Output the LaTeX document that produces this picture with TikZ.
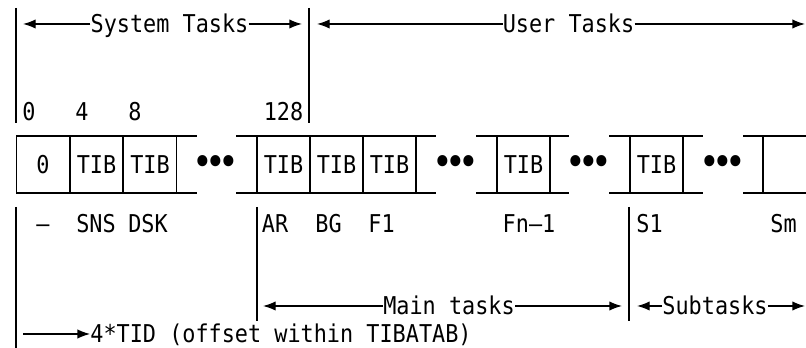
\documentclass[tikz,border=0pt]{standalone}
\usepackage{fontspec}
\newfontfamily\tibfont[FakeStretch=0.89]{DejaVu Sans Mono}
\usepackage{tikz}
\usetikzlibrary{arrows.meta, positioning}
\tikzset{>={Latex[length=9.5pt,width=7pt]}}
\tikzset{
  lbl/.style={font=\tibfont\fontsize{18.4pt}{22pt}\selectfont, inner sep=0pt, text height=13.4pt, text depth=0pt},
  cell/.style={lbl, draw, line width=1.2pt, minimum width=39.9pt, minimum height=42.75pt},
  gap/.style={font=\tibfont\fontsize{29pt}{30pt}\selectfont, inner sep=0pt},
  rule/.style={line width=1.3pt},
  span/.style={line width=1pt}
}

\begin{document}
\begin{tikzpicture}[x=0.75pt, y=-0.75pt]
\useasboundingbox (0,0) rectangle (806,348);

\draw[rule] (16,8) -- (16,123);
\draw[rule] (309,8) -- (309,123);
\node[lbl] (sys) at (169.5,24) {System Tasks};
\node[lbl] (usr) at (568.5,24) {User Tasks};
\coordinate (sysL) at (23,24);
\coordinate (sysR) at (302,24);
\coordinate (usrL) at (317,24);
\coordinate (usrR) at (805,24);
\path[span, ->]
(sys) edge (sysL) edge (sysR)
(usr) edge (usrL) edge (usrR);

\node[lbl] (off0) at (29,112) {0};
\node[lbl] (off4) at (82,112) {4};
\node[lbl] (off8) at (135,112) {8};
\node[lbl] (off128) at (283.5,112) {128};

\foreach \a/\b in {16/197, 236/436, 476/569, 609/703, 743/806}
  \draw[rule] (\a,136) -- (\b,136) (\a,193) -- (\b,193);
\node[cell] (c0) at (43,164.5) {0};
\node[cell] (c1) at (96.5,164.5) {TIB};
\node[cell] (c2) at (150,164.5) {TIB};
\node[cell] (c3) at (283.5,164.5) {TIB};
\node[cell] (c4) at (336.5,164.5) {TIB};
\node[cell] (c5) at (389.5,164.5) {TIB};
\node[cell] (c6) at (523.5,164.5) {TIB};
\node[cell] (c7) at (656.5,164.5) {TIB};
\draw[rule] (763,136) -- (763,193);
\foreach \x [count=\i] in {216, 456, 589, 723}
  \node[gap] (dots\i) at (\x,165.5) {•\kern-6pt•\kern-6pt•};

\node[lbl] (nm0) at (43,224) {–};
\node[lbl] (sns) at (96,224) {SNS};
\node[lbl] (dsk) at (148,224) {DSK};
\node[lbl] (ar) at (275,224) {AR};
\node[lbl] (bg) at (328.5,224) {BG};
\node[lbl] (f1) at (381.5,224) {F1};
\node[lbl] (fn) at (529,224) {Fn–1};
\node[lbl] (s1) at (649.5,224) {S1};
\node[lbl] (sm) at (783.5,224) {Sm};

\draw[rule] (16,207) -- (16,348);
\draw[rule] (257,207) -- (257,321);
\draw[rule] (629,207) -- (629,321);
\node[lbl] (main) at (449,306) {Main tasks};
\node[lbl] (sub) at (715,306) {Subtasks};
\coordinate (mainL) at (263,306);
\coordinate (mainR) at (622,306);
\coordinate (subL) at (637,306);
\coordinate (subR) at (805,306);
\path[span, ->]
(main) edge (mainL) edge (mainR)
(sub) edge (subL) edge (subR);

\node[lbl] (tid) at (281,334) {4*TID (offset within TIBATAB)};
\coordinate (tidL) at (23,334);
\draw[span, ->] (tidL) -- (tid.west);
\end{tikzpicture}
\end{document}
